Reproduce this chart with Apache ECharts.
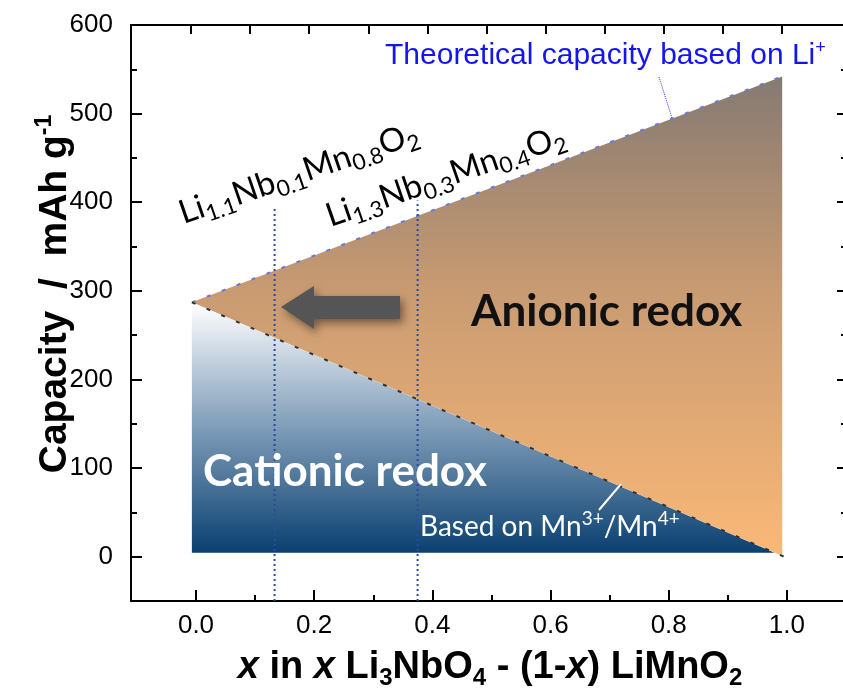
<!DOCTYPE html>
<html>
<head>
<meta charset="utf-8">
<script src="https://cdn.jsdelivr.net/npm/echarts@6/dist/echarts.min.js"></script>
<style>
  html, body { margin: 0; padding: 0; background: #ffffff; }
  #chart { width: 843px; height: 694px; }
</style>
</head>
<body>
<div id="chart"></div>
<script>
// Composition x in x Li3NbO4 - (1-x) LiMnO2 and capacity in mAh/g
const liLineX = [-0.007, 0.992];          // theoretical capacity based on Li+
const liLineY = [287, 542];
const mnLineX = [-0.007, 0.995];          // capacity based on Mn3+/Mn4+
const mnLineY = [287, 0];
const anionicX = [-0.007, 0.992, 0.992];  // region between the two lines
const anionicY = [287, 542, 1];
const cationicX = [-0.007, 0.979, -0.007]; // region under the Mn line
const cationicY = [287, 4.5, 4.5];
const markerX = [0.133, 0.375];           // Li1.1Nb0.1Mn0.8O2, Li1.3Nb0.3Mn0.4O2
const markerTop = [395, 402];

const xMin = -0.11, xMax = 1.1;
const yMin = -50, yMax = 600;
const xTickLabels = [0, 0.2, 0.4, 0.6, 0.8, 1.0];
const xMinorTicks = [0.1, 0.3, 0.5, 0.7, 0.9];
const xTopTicks = [0, 0.1, 0.2, 0.3, 0.4, 0.5, 0.6, 0.7, 0.8, 0.9, 1.0];
const yTickLabels = [0, 100, 200, 300, 400, 500, 600];
const yMinorTicks = [50, 150, 250, 350, 450, 550];

const AX_FONT = '"Liberation Sans", Arial, sans-serif';
const CAL_FONT = 'Lato, "Open Sans", sans-serif';

const chart = echarts.init(document.getElementById('chart'), null, { renderer: 'canvas' });

function frameAxis(extra) {
  return Object.assign({
    type: 'value',
    axisLine: { show: true, onZero: false, lineStyle: { color: '#000', width: 2 } },
    axisTick: { show: true, inside: true, lineStyle: { color: '#000', width: 2 } },
    axisLabel: { show: false },
    splitLine: { show: false }
  }, extra);
}

function polygonSeries(name, xs, ys, stops, z) {
  return {
    name: name,
    type: 'custom',
    coordinateSystem: 'cartesian2d',
    xAxisIndex: 0,
    yAxisIndex: 0,
    silent: true,
    z: z,
    data: [[xs[0], ys[0]]],
    renderItem: function (params, api) {
      const pts = xs.map(function (x, i) { return api.coord([x, ys[i]]); });
      return {
        type: 'polygon',
        shape: { points: pts },
        style: { fill: new echarts.graphic.LinearGradient(0, 0, 0, 1, stops) }
      };
    }
  };
}

function toPairs(xs, ys) { return xs.map(function (x, i) { return [x, ys[i]]; }); }

const markerSeries = markerX.map(function (mx, i) {
  return {
    type: 'line',
    data: [[mx, yMin], [mx, markerTop[i]]],
    symbol: 'none',
    silent: true,
    z: 6,
    lineStyle: { color: '#2c4a9e', width: 2, type: [2, 3] }
  };
});

function formulaLabel(text, x, y) {
  return {
    type: 'text', z: 100, x: x, y: y, rotation: 19 * Math.PI / 180,
    style: {
      text: text,
      align: 'left', verticalAlign: 'middle', fill: '#000',
      rich: {
        m: { fontSize: 33, fontFamily: CAL_FONT },
        s: { fontSize: 22.5, fontFamily: CAL_FONT, padding: [19, 0, 0, 0] }
      }
    }
  };
}

const option = {
  animation: false,
  backgroundColor: '#ffffff',
  grid: { left: 131, top: 25, width: 715, height: 576, outerBoundsMode: 'none' },
  xAxis: [
    frameAxis({
      position: 'bottom', min: xMin, max: xMax,
      axisTick: { show: true, inside: true, length: 11, customValues: xTickLabels,
                  lineStyle: { color: '#000', width: 2 } },
      axisLabel: { show: true, customValues: xTickLabels, margin: 12,
                   formatter: function (v) { return v.toFixed(1); },
                   color: '#000', fontSize: 26, fontFamily: AX_FONT }
    }),
    frameAxis({
      position: 'bottom', min: xMin, max: xMax,
      axisLine: { show: false, onZero: false },
      axisTick: { show: true, inside: true, length: 6, customValues: xMinorTicks,
                  lineStyle: { color: '#000', width: 2 } }
    }),
    frameAxis({
      position: 'top', min: xMin + 0.0085, max: xMax + 0.0085,
      axisTick: { show: true, inside: true, length: 9, customValues: xTopTicks,
                  lineStyle: { color: '#000', width: 2 } }
    })
  ],
  yAxis: [
    frameAxis({
      position: 'left', min: yMin, max: yMax,
      axisTick: { show: true, inside: true, length: 11, customValues: yTickLabels,
                  lineStyle: { color: '#000', width: 2 } },
      axisLabel: { show: true, customValues: yTickLabels, margin: 18,
                   color: '#000', fontSize: 26, fontFamily: AX_FONT }
    }),
    frameAxis({
      position: 'left', min: yMin, max: yMax,
      axisLine: { show: false, onZero: false },
      axisTick: { show: true, inside: true, length: 6, customValues: yMinorTicks,
                  lineStyle: { color: '#000', width: 2 } }
    }),
    frameAxis({
      position: 'right', min: yMin, max: yMax,
      axisTick: { show: true, inside: true, length: 9, customValues: yTickLabels,
                  lineStyle: { color: '#000', width: 2 } }
    }),
    frameAxis({
      position: 'right', min: yMin, max: yMax,
      axisLine: { show: false, onZero: false },
      axisTick: { show: true, inside: true, length: 5, customValues: yMinorTicks,
                  lineStyle: { color: '#000', width: 2 } }
    })
  ],
  series: [
    polygonSeries('Anionic redox', anionicX, anionicY, [
      { offset: 0, color: '#857a73' },
      { offset: 0.45, color: '#c99b72' },
      { offset: 1, color: '#fab877' }
    ], 1),
    polygonSeries('Cationic redox', cationicX, cationicY, [
      { offset: 0, color: '#ffffff' },
      { offset: 0.5, color: '#7f9cb8' },
      { offset: 1, color: '#0a4070' }
    ], 2),
    {
      name: 'Theoretical capacity based on Li+',
      type: 'line', data: toPairs(liLineX, liLineY), symbol: 'none', silent: true, z: 5,
      lineStyle: { color: '#6a78d6', width: 2, type: [4, 12] }
    },
    {
      name: 'Based on Mn3+/Mn4+',
      type: 'line', data: toPairs(mnLineX, mnLineY), symbol: 'none', silent: true, z: 5,
      lineStyle: { color: '#333333', width: 2, type: [4, 12] }
    }
  ].concat(markerSeries),
  graphic: [
    // axis titles
    {
      type: 'text', z: 100, x: 55, y: 294, rotation: Math.PI / 2,
      style: {
        text: '{b|Capacity  /  mAh g}{sup|-1}',
        align: 'center', verticalAlign: 'middle', fill: '#000',
        rich: {
          b: { fontSize: 39, fontWeight: 'bold', fontFamily: AX_FONT },
          sup: { fontSize: 23, fontWeight: 'bold', fontFamily: AX_FONT, padding: [0, 0, 21, 0] }
        }
      }
    },
    {
      type: 'text', z: 100, x: 490, y: 668,
      style: {
        text: '{i|x}{b| in }{i|x}{b| Li}{sub|3}{b|NbO}{sub|4}{b| - (1-}{i|x}{b|) LiMnO}{sub|2}',
        align: 'center', verticalAlign: 'middle', fill: '#000',
        rich: {
          b: { fontSize: 38, fontWeight: 'bold', fontFamily: AX_FONT },
          i: { fontSize: 38, fontWeight: 'bold', fontStyle: 'italic', fontFamily: AX_FONT },
          sub: { fontSize: 24, fontWeight: 'bold', fontFamily: AX_FONT, padding: [20, 0, 0, 0] }
        }
      }
    },
    // theoretical capacity annotation
    {
      type: 'text', z: 100, x: 385, y: 56,
      style: {
        text: '{t|Theoretical capacity based on Li}{sup|+}',
        align: 'left', verticalAlign: 'middle', fill: '#1414ee',
        rich: {
          t: { fontSize: 30, fontFamily: AX_FONT },
          sup: { fontSize: 18, fontFamily: AX_FONT, padding: [0, 0, 16, 0] }
        }
      }
    },
    {
      type: 'line', z: 100,
      shape: { x1: 659, y1: 77, x2: 672, y2: 118 },
      style: { stroke: '#2a3ad8', lineWidth: 1, lineDash: [1, 1] }
    },
    // composition labels
    formulaLabel('{m|Li}{s|1.1}{m|Nb}{s|0.1}{m|Mn}{s|0.8}{m|O}{s|2}', 180, 214),
    formulaLabel('{m|Li}{s|1.3}{m|Nb}{s|0.3}{m|Mn}{s|0.4}{m|O}{s|2}', 327, 217),
    // arrow toward Li-rich side
    {
      type: 'polygon', z: 100,
      shape: { points: [[281, 307], [314, 286], [314, 296], [400, 296], [400, 319], [314, 319], [314, 329]] },
      style: { fill: '#555555', shadowBlur: 8, shadowOffsetX: 3, shadowOffsetY: 4, shadowColor: 'rgba(0,0,0,0.45)' }
    },
    // region labels
    {
      type: 'text', z: 100, x: 471, y: 312,
      style: {
        text: 'Anionic redox', align: 'left', verticalAlign: 'middle',
        fill: '#111111', fontSize: 44, fontWeight: 'bold', fontFamily: CAL_FONT,
        shadowBlur: 6, shadowOffsetX: 2, shadowOffsetY: 3, shadowColor: 'rgba(0,0,0,0.5)'
      }
    },
    {
      type: 'text', z: 100, x: 203, y: 472,
      style: {
        text: 'Cationic redox', align: 'left', verticalAlign: 'middle',
        fill: '#ffffff', fontSize: 44, fontWeight: 'bold', fontFamily: CAL_FONT,
        shadowBlur: 6, shadowOffsetX: 2, shadowOffsetY: 3, shadowColor: 'rgba(0,0,0,0.55)'
      }
    },
    {
      type: 'text', z: 100, x: 420, y: 527,
      style: {
        text: '{t|Based on Mn}{sup|3+}{t|/Mn}{sup|4+}',
        align: 'left', verticalAlign: 'middle', fill: '#ffffff',
        rich: {
          t: { fontSize: 28, fontFamily: CAL_FONT },
          sup: { fontSize: 19, fontFamily: CAL_FONT, padding: [0, 0, 16, 0] }
        }
      }
    },
    {
      type: 'line', z: 100,
      shape: { x1: 599, y1: 510, x2: 621, y2: 484 },
      style: { stroke: '#ffffff', lineWidth: 2 }
    }
  ]
};

chart.setOption(option);
</script>
</body>
</html>
